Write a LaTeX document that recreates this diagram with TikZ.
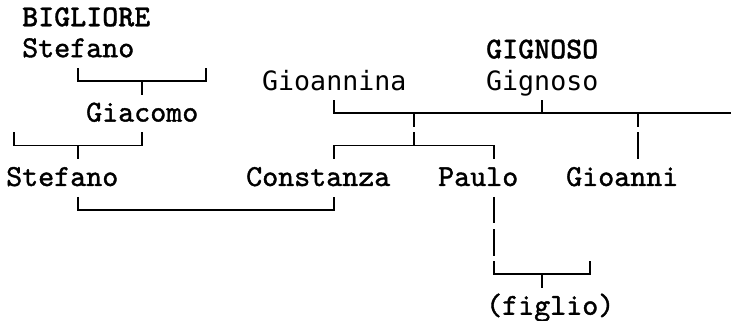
\documentclass[tikz,border=0pt]{standalone}
\usepackage{fontspec}
\newfontfamily\gnmono{DejaVu Sans Mono}
\newfontfamily\lmtree{lmmono10-regular}[Extension=.otf,FakeBold=1.3]
\newfontfamily\lmhouse{lmmonolt10-bold}[Extension=.otf,FakeBold=0.8]
\usetikzlibrary{calc}
\newcommand{\tree}{\lmtree\fontsize{30.5}{30}\selectfont}
\newcommand{\treeb}{\lmhouse\fontsize{30.5}{30}\selectfont}
\newcommand{\treeg}{\gnmono\fontsize{26.6}{26}\selectfont}
\newcommand{\stubup}{13pt}
\newcommand{\stubdn}{-13.5pt}

\begin{document}
\begin{tikzpicture}[x=16pt,y=-32.2pt,
  person/.style={anchor=base west,inner sep=0pt,font=\tree},
  house/.style={person,font=\treeb},
  persong/.style={person,font=\treeg},
  link/.style={line width=1.7pt}]
  \useasboundingbox (-0.875,-0.5155) rectangle (44.8125,9.4534);

  % Names: columns of 16pt, rows of 32.2pt
  \node[house]   (bigliore)  at (0.5,0.3)   {BIGLIORE};
  \node[person]  (stefanoA)  at (0.5,1.26)  {Stefano};
  \node[house]   (gignosoF)  at (29.5,1.3)  {GIGNOSO};
  \node[persong] (gioannina) at (15.5,2.3)  {Gioannina};
  \node[persong] (gignoso)   at (29.5,2.3)  {Gignoso};
  \node[person]  (giacomo)   at (4.5,3.26)  {Giacomo};
  \node[person]  (stefanoB)  at (-0.5,5.26) {Stefano};
  \node[person]  (constanza) at (14.5,5.26) {Constanza};
  \node[person]  (paulo)     at (26.5,5.26) {Paulo};
  \node[person]  (gioanni)   at (34.5,5.26) {Gioanni};
  \node[person]  (figlio)    at (29.5,9.26) {(figlio)};

  % Stefano -- Giacomo
  \coordinate (b1l) at (4,2);
  \coordinate (b1m) at (8,2);
  \coordinate (b1r) at (12,2);
  \draw[link] ([yshift=\stubup]b1l) -- (b1l) -- (b1r) -- ([yshift=\stubup]b1r);
  \draw[link] (b1m) -- ([yshift=\stubdn]b1m);

  % Giacomo -- Stefano
  \coordinate (b2l) at (0,4);
  \coordinate (b2m) at (4,4);
  \coordinate (b2r) at (8,4);
  \draw[link] ([yshift=\stubup]b2l) -- (b2l) -- (b2r) -- ([yshift=\stubup]b2r);
  \draw[link] (b2m) -- ([yshift=\stubdn]b2m);

  % Gioannina + Gignoso, running off the right edge
  \coordinate (m0) at (20,3);
  \coordinate (m1) at (25,3);
  \coordinate (m2) at (33,3);
  \coordinate (m3) at (39,3);
  \coordinate (mend) at (44.8125,3);
  \draw[link] ([yshift=\stubup]m0) -- (m0) -- (mend);
  \draw[link] (m1) -- ([yshift=\stubdn]m1);
  \draw[link] (m2) -- ([yshift=\stubup]m2);
  \draw[link] (m3) -- ([yshift=\stubdn]m3);

  % Constanza and Paulo
  \coordinate (b3l) at (20,4);
  \coordinate (b3m) at (25,4);
  \coordinate (b3r) at (30,4);
  \draw[link] ([yshift=\stubdn]b3l) -- (b3l) -- (b3r) -- ([yshift=\stubdn]b3r);
  \draw[link] (b3m) -- ([yshift=\stubup]b3m);

  % down to Gioanni
  \coordinate (gv) at (39,4);
  \draw[link] ([yshift=\stubup]gv) -- ([yshift=\stubdn]gv);

  % Stefano -- Constanza
  \coordinate (b4l) at (4,6);
  \coordinate (b4r) at (20,6);
  \draw[link] ([yshift=\stubup]b4l) -- (b4l) -- (b4r) -- ([yshift=\stubup]b4r);

  % Paulo down to the child
  \coordinate (pv6) at (30,6);
  \coordinate (pv7) at (30,7);
  \draw[link] ([yshift=\stubup]pv6) -- ([yshift=\stubdn]pv6);
  \draw[link] ([yshift=\stubup]pv7) -- ([yshift=\stubdn]pv7);

  \coordinate (b5l) at (30,8);
  \coordinate (b5m) at (33,8);
  \coordinate (b5r) at (36,8);
  \draw[link] ([yshift=\stubup]b5l) -- (b5l) -- (b5r) -- ([yshift=\stubup]b5r);
  \draw[link] (b5m) -- ([yshift=\stubdn]b5m);
\end{tikzpicture}
\end{document}
